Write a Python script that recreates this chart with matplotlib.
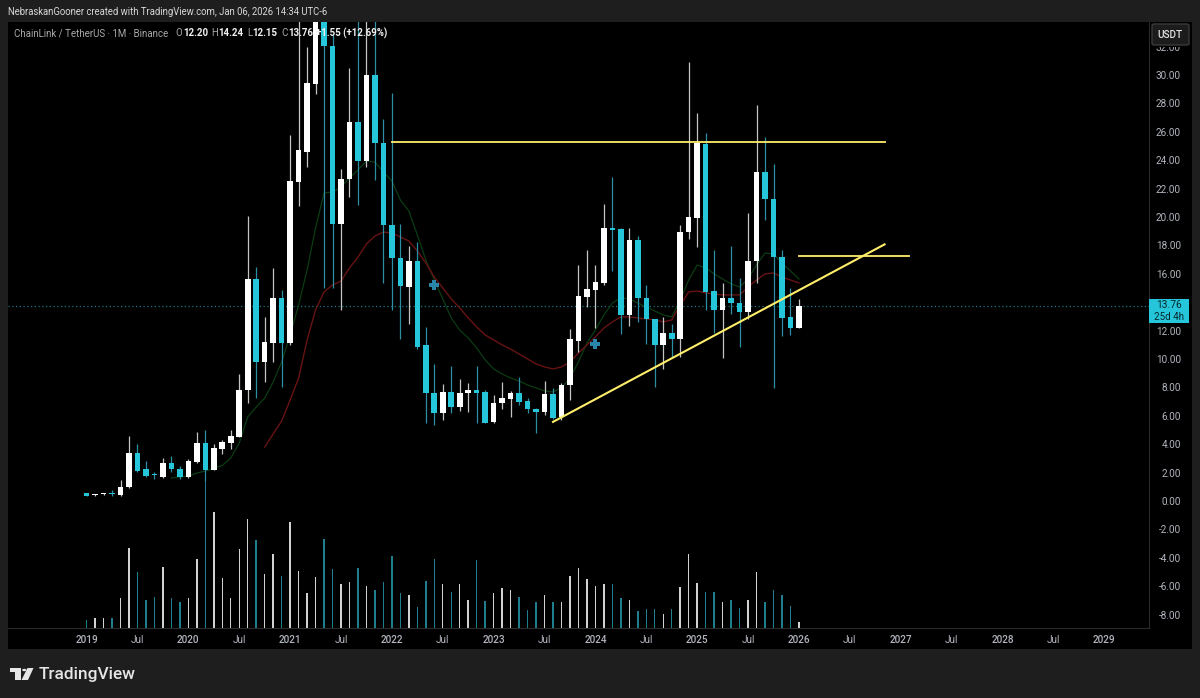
import matplotlib
matplotlib.use("Agg")
import matplotlib.pyplot as plt
from matplotlib.patches import Rectangle, Polygon, Circle, FancyBboxPatch

plt.rcParams["font.family"] = ["Roboto", "DejaVu Sans"]

W, H = 1200, 698

# monthly candles, index 0 = Jan 2019
opens = [0.53, 0.42, 0.46, 0.58, 0.42, 0.96, 3.40, 2.23, 1.85, 1.71, 2.70, 2.27, 1.71, 2.77, 4.06, 2.20, 3.68,
         4.06, 4.52, 7.82, 15.61, 9.81, 11.15, 14.27, 11.15, 22.49, 24.60, 29.35, 35.50, 32.06, 19.51, 22.68,
         26.69, 23.96, 30.00, 25.23, 19.44, 17.11, 15.05, 16.90, 10.99, 7.58, 6.22, 7.65, 6.60, 7.58, 7.82,
         7.65, 5.54, 6.88, 7.18, 7.58, 7.04, 6.46, 6.29, 7.54, 5.89, 8.17, 11.29, 14.39, 14.86, 15.37, 19.23,
         19.15, 13.08, 18.38, 14.27, 12.80, 10.99, 11.81, 11.39, 18.94, 19.93, 25.14, 14.81, 13.45, 14.30,
         13.96, 13.31, 16.90, 23.19, 21.27, 17.20, 12.94, 12.20]
highs = [0.58, 0.50, 0.58, 0.80, 1.48, 4.58, 4.00, 2.80, 2.06, 3.00, 3.17, 2.46, 2.96, 4.86, 5.00, 4.00, 4.30,
         5.00, 8.94, 20.07, 16.50, 12.98, 16.41, 14.86, 25.77, 36.00, 31.97, 38.00, 38.00, 32.82, 23.38, 30.51,
         36.00, 36.00, 36.00, 26.90, 28.73, 19.51, 17.98, 18.26, 12.27, 9.65, 8.24, 9.51, 8.59, 8.33, 9.51,
         7.82, 7.46, 8.40, 7.77, 8.75, 7.27, 6.57, 8.47, 7.94, 8.33, 12.09, 16.62, 17.68, 16.62, 20.92, 22.84,
         19.23, 19.20, 18.66, 15.21, 12.85, 12.96, 12.46, 19.44, 30.92, 27.32, 25.94, 17.68, 15.37, 17.98,
         15.68, 20.28, 27.89, 25.61, 23.71, 17.68, 14.98, 14.24]
lows = [0.35, 0.38, 0.42, 0.35, 0.38, 0.92, 2.06, 1.72, 1.53, 1.65, 2.06, 1.53, 1.65, 2.68, 1.40, 2.15, 3.30,
        3.68, 4.50, 6.90, 7.25, 8.40, 9.79, 8.05, 11.00, 20.77, 23.52, 28.66, 15.00, 15.00, 13.45, 21.41,
        20.85, 23.52, 22.61, 15.35, 13.45, 11.41, 12.46, 10.70, 5.49, 5.35, 5.70, 6.22, 6.36, 6.29, 5.51,
        5.49, 5.49, 6.46, 5.94, 6.76, 6.18, 4.81, 6.06, 5.75, 5.70, 7.11, 10.51, 13.64, 12.20, 15.21, 16.22,
        11.76, 12.35, 12.63, 11.06, 8.05, 9.32, 10.16, 10.14, 18.43, 17.87, 13.45, 11.85, 10.07, 13.17,
        10.87, 12.80, 15.37, 19.79, 7.94, 11.62, 11.69, 12.15]
closes = [0.37, 0.47, 0.54, 0.52, 1.00, 3.40, 2.13, 1.76, 1.80, 2.70, 2.23, 1.69, 2.84, 4.06, 2.20, 3.73, 4.13,
          4.58, 7.82, 15.61, 9.81, 11.22, 14.27, 11.15, 22.56, 24.72, 29.42, 35.50, 32.04, 19.51, 22.68, 26.69,
          23.96, 30.00, 25.23, 19.44, 17.11, 15.14, 16.90, 10.87, 7.58, 6.22, 7.65, 6.60, 7.61, 7.82, 7.63,
          5.51, 6.92, 7.23, 7.61, 6.99, 6.46, 6.29, 7.54, 5.82, 8.17, 11.39, 14.44, 14.91, 15.42, 19.25, 19.11,
          13.08, 18.38, 14.27, 12.80, 10.99, 11.81, 11.39, 18.96, 19.98, 25.19, 14.74, 13.45, 14.30, 13.92,
          13.33, 16.90, 23.19, 21.25, 17.20, 12.91, 12.18, 13.76]
volumes = [8, 9.3, 10, 9.3, 30, 79.7, 55.7, 28, 30.7, 61, 29.3, 25.3, 30, 69, 158, 115.3, 49.3, 30, 78.7, 109,
           87.7, 54, 74, 51.3, 105.3, 56.3, 35, 51, 89, 59, 43.7, 45.3, 59.3, 42, 38, 46, 71.7, 34.3, 32.7,
           20.3, 46.3, 69, 43.7, 36, 44, 28, 67.3, 26.3, 35, 39.7, 37.3, 30.7, 17.7, 25.3, 33, 25.3, 26, 51.7,
           59.7, 48.7, 41.3, 44, 43.3, 30, 28, 16.7, 18.7, 18.7, 14, 18.7, 40.3, 73.3, 45, 36, 35.3, 25.3,
           27.3, 20, 27.3, 55.7, 26, 38, 32.3, 21.3, 5.3]

# moving averages, green one starts at candle 10, red one at candle 21
ma_green = [1.62, 1.69, 1.76, 1.97, 2.11, 2.32, 2.50, 3.03, 4.08, 5.92, 6.62, 7.25, 8.38, 9.79, 11.69, 13.80,
            16.27, 19.23, 21.69, 21.76, 22.11, 22.75, 23.31, 23.94, 23.87, 23.17, 22.54, 21.20, 20.42, 18.73,
            16.97, 15.56, 14.23, 12.89, 12.04, 11.48, 10.77, 9.93, 9.30, 8.94, 8.66, 8.45, 8.17, 7.96, 7.75,
            7.68, 7.96, 8.66, 9.79, 11.13, 12.04, 13.10, 13.94, 14.30, 14.23, 13.94, 13.66, 13.38, 13.10, 12.96,
            14.15, 15.56, 16.62, 16.41, 15.99, 15.63, 15.28, 15.07, 15.63, 16.62, 17.46, 17.39, 16.76, 16.20,
            15.63]
ma_red = [3.80, 4.72, 5.63, 7.11, 8.66, 11.34, 13.45, 14.72, 15.21, 15.49, 16.41, 17.18, 18.10, 18.66, 18.94,
          18.87, 18.59, 18.31, 17.61, 16.76, 15.77, 15.00, 14.23, 13.59, 12.89, 12.25, 11.69, 11.34, 10.99,
          10.70, 10.35, 10.00, 9.65, 9.44, 9.30, 9.44, 9.79, 10.42, 10.99, 11.55, 12.18, 12.61, 12.96, 12.96,
          12.89, 12.82, 12.75, 12.61, 12.75, 13.80, 14.72, 14.79, 14.65, 14.58, 14.51, 14.51, 14.51, 15.07,
          15.56, 15.99, 16.06, 15.77, 15.56, 15.35]

# drawn trend lines (candle index, price)
resistance_x = [36, 94.1]
resistance_y = [25.25, 25.25]
shelf_x = [84, 97.0]
shelf_y = [17.27, 17.27]
trend_x = [55, 94.1]
trend_y = [5.57, 18.07]

cross_x = [41, 60]
cross_y = [15.2, 11.03]

last_price = 13.76
price_ticks = list(range(-8, 34, 2))
time_ticks = list(range(0, 126, 6))
time_labels = ["2019", "Jul", "2020", "Jul", "2021", "Jul", "2022", "Jul", "2023", "Jul", "2024", "Jul", "2025",
               "Jul", "2026", "Jul", "2027", "Jul", "2028", "Jul", "2029"]

BG = "#1e1e1e"
TEAL = "#26c6da"
TEAL_WICK = "#2c8fa3"
WHITE_WICK = "#c4c4c4"
TEAL_VOL = "#1f7f8e"
WHITE_VOL = "#d2d2d2"
TEXT = "#b2b5be"
YELLOW = "#ffee6a"
LINE = "#2b2b2b"


def fx(px):
    return px / W


def fy(px):
    return 1 - px / H


fig = plt.figure(figsize=(W / 100, H / 100), dpi=100, facecolor=BG)
fig.patches.append(Rectangle((fx(8), fy(649)), fx(1184), 627 / H, transform=fig.transFigure, fc="black", ec="none", zorder=-1))

rect = [fx(8), fy(627.5), fx(1141), 605.5 / H]
ax_vol = fig.add_axes(rect, zorder=0)
ax = fig.add_axes(rect, zorder=1)
ax.patch.set_visible(False)
ax_vol.set_facecolor("black")

xlim = (-9.27, 125.28)
ylim = (-8.91, 33.73)

n = range(len(opens))
up = [c >= o for o, c in zip(opens, closes)]

# volume
ax_vol.bar(n, volumes, width=0.17, color=[WHITE_VOL if u else TEAL_VOL for u in up])
ax_vol.set_xlim(xlim)
ax_vol.set_ylim(0, 605.5)
ax_vol.axis("off")

# moving averages
ax.plot(range(10, 10 + len(ma_green)), ma_green, color="#0b3c13", lw=0.9, zorder=2)
ax.plot(range(21, 21 + len(ma_red)), ma_red, color="#681313", lw=1.0, zorder=2)

ax.axhline(last_price, color="#1f7485", lw=0.9, ls=(0, (1, 2)), zorder=1)

# candles
ax.vlines(n, lows, highs, colors=[WHITE_WICK if u else TEAL_WICK for u in up], lw=0.9, zorder=3)
bottoms = [min(o, c) for o, c in zip(opens, closes)]
heights = [max(abs(c - o), 0.07) for o, c in zip(opens, closes)]
ax.bar(n, heights, bottom=bottoms, width=0.66, color=["white" if u else TEAL for u in up], zorder=4)

# drawings
ax.plot(resistance_x, resistance_y, color=YELLOW, lw=1.3, zorder=5)
ax.plot(shelf_x, shelf_y, color=YELLOW, lw=1.3, zorder=5)
ax.plot(trend_x, trend_y, color=YELLOW, lw=1.5, zorder=5)
ax.scatter(cross_x, cross_y, marker="P", s=50, color="#2a86a8", linewidths=0, zorder=5)

ax.set_xlim(xlim)
ax.set_ylim(ylim)
ax.set_xticks(time_ticks)
ax.set_xticklabels(time_labels, fontsize=7.2, color=TEXT)
ax.set_yticks(price_ticks)
# the 14.00 label sits under the price tag
ax.set_yticklabels(["" if p == 14 else "%.2f" % p for p in price_ticks], fontsize=7.2, color=TEXT, ha="right")
ax.tick_params(axis="x", length=0, pad=5.5)
ax.tick_params(axis="y", length=0, pad=23, left=False, labelleft=False, right=True, labelright=True)
for lbl in ax.get_xticklabels():
    if lbl.get_text() != "Jul":
        lbl.set_fontweight("medium")
for name, spine in ax.spines.items():
    spine.set_visible(name in ("right", "bottom"))
    spine.set_color(LINE)

# price tag and currency button over the axis
fig.patches.append(Rectangle((fx(1149), fy(323)), 40 / W, 24 / H, transform=fig.transFigure, fc=TEAL, ec="none", zorder=5))
fig.text(fx(1169), fy(305.5), "13.76", color="#06262c", fontsize=7.4, ha="center", va="center", zorder=6)
fig.text(fx(1169), fy(317), "25d 4h", color="#06262c", fontsize=7.0, ha="center", va="center", zorder=6)
fig.patches.append(Rectangle((fx(1150), fy(47)), 40 / W, 25 / H, transform=fig.transFigure, fc="black", ec="none", zorder=4))
fig.patches.append(FancyBboxPatch((fx(1152), fy(45)), 37 / W, 21 / H, boxstyle="round,pad=0,rounding_size=0.002",
                                  transform=fig.transFigure, fc="#1c1c1c", ec="#3a3a3a", lw=1, zorder=5))
fig.text(fx(1170), fy(35), "USDT", color="#e4e4e4", fontsize=7.2, fontweight="medium", ha="center", va="center", zorder=6)

# header
fig.text(fx(8), fy(12), "NebraskanGooner created with TradingView.com, Jan 06, 2026 14:34 UTC-6", color="#d8d8d8",
         fontsize=6.85, va="center")
fig.text(fx(14), fy(33.5), "ChainLink / TetherUS · 1M · Binance", color="#a8a8a8", fontsize=7.0, va="center", zorder=6)
legend_bits = [(175, "O", "#a8a8a8", "normal"), (183, "12.20", "#f0f0f0", "bold"),
               (211, "H", "#a8a8a8", "normal"), (218, "14.24", "#f0f0f0", "bold"),
               (247, "L", "#a8a8a8", "normal"), (252, "12.15", "#f0f0f0", "bold"),
               (281, "C", "#a8a8a8", "normal"), (288, "13.76", "#f0f0f0", "bold"),
               (316, "+1.55 (+12.69%)", "#f0f0f0", "bold")]
for x, s, c, w in legend_bits:
    fig.text(fx(x), fy(33.5), s, color=c, fontsize=7.0, fontweight=w, va="center", zorder=6)

# footer logo
logo = [Polygon([(fx(9.5), fy(668)), (fx(21), fy(668)), (fx(21), fy(680)), (fx(14.5), fy(680)), (fx(14.5), fy(672)), (fx(9.5), fy(672))]),
        Polygon([(fx(27.5), fy(668)), (fx(33.5), fy(668)), (fx(28), fy(680)), (fx(21.5), fy(680))])]
for p in logo:
    p.set(transform=fig.transFigure, fc="#e6e6e6", ec="none", zorder=5)
    fig.patches.append(p)
fig.patches.append(Circle((fx(24.3), fy(670)), 2.1 / W, transform=fig.transFigure, fc="#e6e6e6", ec="none", zorder=5))
fig.text(fx(39), fy(674.5), "TradingView", color="#e6e6e6", fontsize=12.4, fontweight="medium", va="center", zorder=6)

fig.savefig("out.png", dpi=100, facecolor=BG)
